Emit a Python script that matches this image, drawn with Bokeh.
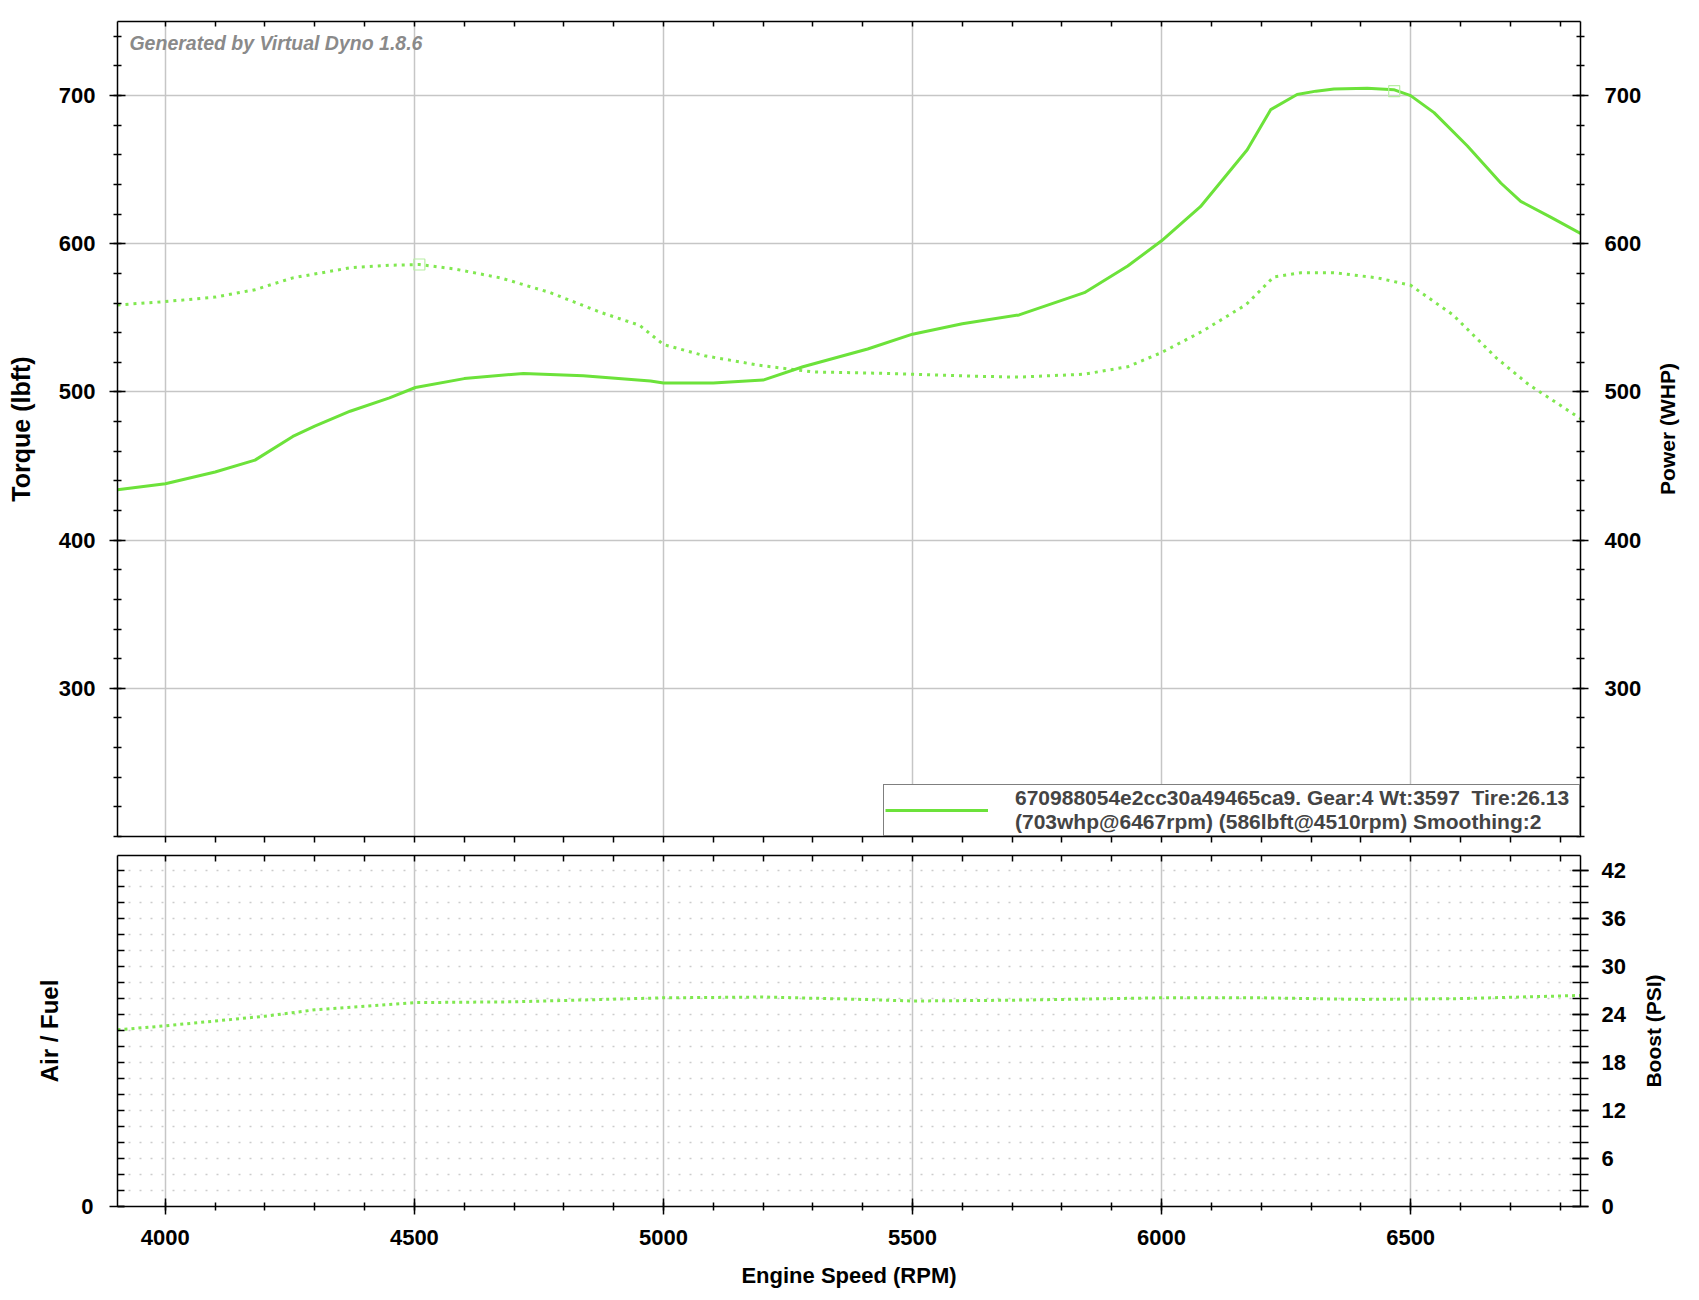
from bokeh.plotting import figure
from bokeh.models import Range1d, LinearAxis, FixedTicker, Legend, LegendItem, Label
from bokeh.layouts import column, row
from bokeh.embed import file_html
from bokeh.resources import INLINE

# ---------------- data ----------------
rpm_power = [3904, 4000, 4100, 4180, 4256, 4300, 4371, 4450, 4502, 4600, 4719, 4839,
             4974, 5000, 5100, 5200, 5280, 5410, 5500, 5600, 5714, 5845, 5932, 6000,
             6078, 6172, 6219, 6272, 6310, 6346, 6413, 6466, 6500, 6547, 6614, 6681,
             6721, 6781, 6841]
power_whp = [434, 438, 446, 454, 470, 477, 487, 496, 503, 509, 512.5, 511,
             507.4, 506, 506, 508, 517, 529, 539, 546, 552, 567, 585, 602,
             625, 663.5, 690.5, 700.7, 703, 704.5, 705, 704, 700, 688.5, 666, 641,
             628.6, 618, 607]

rpm_torque = [3904, 4000, 4100, 4180, 4256, 4371, 4450, 4510, 4580, 4673, 4773, 4874,
              4952, 5000, 5083, 5192, 5300, 5410, 5500, 5627, 5714, 5845, 5932, 6000,
              6082, 6170, 6225, 6280, 6346, 6433, 6500, 6585, 6672, 6737, 6841]
torque_lbft = [558.7, 561, 564, 569, 577, 583.8, 585.5, 586, 583, 577, 567, 553.7,
               545, 532, 524.4, 518, 513.5, 512.8, 512, 510.6, 510, 512, 517, 526.6,
               541, 559, 577.6, 580.5, 580.5, 577, 572, 552, 523, 505, 482]

rpm_boost = [3904, 4000, 4200, 4300, 4500, 4700, 5000, 5200, 5400, 5500, 5700,
             6000, 6200, 6400, 6600, 6841]
boost_psi = [22.1, 22.6, 23.8, 24.6, 25.5, 25.6, 26.1, 26.2, 25.9, 25.7, 25.8,
             26.1, 26.1, 25.9, 26.0, 26.4]

peak_power_rpm = [6467]
peak_power = [703]
peak_torque_rpm = [4510]
peak_torque = [586]

x_major = [4000, 4500, 5000, 5500, 6000, 6500]
x_minor = list(range(3900, 6900, 100))
torque_major = [300, 400, 500, 600, 700]
torque_minor = list(range(200, 760, 20))
boost_ticks = list(range(0, 44, 2))
boost_labelled = [0, 6, 12, 18, 24, 30, 36, 42]
afr_labelled = [0]

legend_text = ("670988054e2cc30a49465ca9. Gear:4 Wt:3597  Tire:26.13\n"
               "(703whp@6467rpm) (586lbft@4510rpm) Smoothing:2")
watermark = "Generated by Virtual Dyno 1.8.6"
power_title = "Power (WHP)"
boost_title = "Boost (PSI)"

# ---------------- style ----------------
FONT = "Liberation Sans"
GREEN = "#6ce23a"
GREEN_DOT = "#80e850"
GRID = "#c6c6c6"
FRAME_W = 1463
LEFT_B = 117
TOTAL_W = 1684


def base_axis(ax, tin, tout, min_in, min_out):
    ax.axis_line_color = "black"
    ax.axis_line_width = 1.5
    ax.major_tick_line_color = "black"
    ax.major_tick_line_width = 1.5
    ax.minor_tick_line_color = "black"
    ax.minor_tick_line_width = 1.5
    ax.major_tick_in = tin
    ax.major_tick_out = tout
    ax.minor_tick_in = min_in
    ax.minor_tick_out = min_out
    ax.major_label_text_font = FONT
    ax.major_label_text_font_style = "bold"
    ax.major_label_text_color = "black"
    ax.axis_label_text_font = FONT
    ax.axis_label_text_font_style = "bold"
    ax.axis_label_text_color = "black"


def title_strip(text, width, height, top, bottom, border, standoff):
    """Narrow figure whose only content is an upright axis title (reads bottom-to-top)."""
    q = figure(width=width, height=height, title=None, toolbar_location=None,
               output_backend="svg", x_range=Range1d(0, 1), y_range=Range1d(0, 1),
               x_axis_location=None)
    q.min_border_left = border
    q.min_border_right = 0
    q.min_border_top = top
    q.min_border_bottom = bottom
    q.outline_line_color = None
    q.grid.visible = False
    ax = q.left[0]
    ax.ticker = FixedTicker(ticks=[])
    ax.axis_line_color = None
    ax.major_tick_line_color = None
    ax.minor_tick_line_color = None
    ax.axis_label = text
    ax.axis_label_text_font = FONT
    ax.axis_label_text_font_style = "bold"
    ax.axis_label_text_font_size = "21px"
    ax.axis_label_text_color = "black"
    ax.axis_label_standoff = standoff
    return q


# ---------------- top panel ----------------
P1_RIGHT = 64
p1 = figure(frame_width=FRAME_W, frame_height=815, title=None, toolbar_location=None,
            output_backend="svg", x_range=Range1d(3904, 6841), y_range=Range1d(200, 750))
p1.min_border_left = LEFT_B
p1.min_border_right = P1_RIGHT
p1.min_border_top = 21
p1.min_border_bottom = 10
p1.outline_line_color = None

bx = p1.below[0]
bx.ticker = FixedTicker(ticks=[], minor_ticks=x_minor)
base_axis(bx, 0, 8, 0, 6)

ly = p1.left[0]
ly.ticker = FixedTicker(ticks=torque_major, minor_ticks=torque_minor)
base_axis(ly, 8, 8, 4, 4)
ly.major_label_text_font_size = "22px"
ly.major_label_standoff = 14
ly.axis_label = "Torque (lbft)"
ly.axis_label_text_font_size = "25px"
ly.axis_label_standoff = 21

ry = LinearAxis(ticker=FixedTicker(ticks=torque_major, minor_ticks=torque_minor))
base_axis(ry, 8, 8, 4, 4)
ry.major_label_text_font_size = "22px"
ry.major_label_standoff = 16
p1.add_layout(ry, "right")

ax_top = LinearAxis(ticker=FixedTicker(ticks=[], minor_ticks=x_minor))
base_axis(ax_top, 0, 0, 5, 0)
p1.add_layout(ax_top, "above")

p1.xgrid.ticker = FixedTicker(ticks=x_major)
p1.xgrid.grid_line_color = GRID
p1.xgrid.grid_line_width = 1.5
p1.ygrid.grid_line_color = GRID
p1.ygrid.grid_line_width = 1.5

torque_r = p1.line(rpm_torque, torque_lbft, line_color=GREEN_DOT, line_width=3,
                   line_dash="3 5")
power_r = p1.line(rpm_power, power_whp, line_color=GREEN, line_width=3)
p1.scatter(peak_power_rpm, peak_power, marker="square", size=11, fill_color=None,
           line_color="#b8eea4", line_width=1.2)
p1.scatter(peak_torque_rpm, peak_torque, marker="square", size=11, fill_color=None,
           line_color="#b8eea4", line_width=1.2)

p1.add_layout(Label(x=3928, y=743, text=watermark, text_baseline="top",
                    text_font=FONT, text_font_style="bold italic",
                    text_font_size="19.5px", text_color="#8a8a8a"))

legend = Legend(items=[LegendItem(label=legend_text, renderers=[power_r])],
                location="bottom_right")
legend.margin = 0
legend.padding = 1
legend.glyph_width = 103
legend.label_standoff = 27
legend.label_width = 563
legend.label_text_font = FONT
legend.label_text_font_style = "bold"
legend.label_text_font_size = "21px"
legend.label_text_line_height = 0.85
legend.border_line_color = "black"
legend.border_line_width = 1.5
legend.background_fill_color = "white"
legend.background_fill_alpha = 1.0
p1.add_layout(legend, "center")

q1_w = TOTAL_W - (LEFT_B + FRAME_W + P1_RIGHT)
q1 = title_strip(power_title, q1_w, 846, 21, 10, 38, 4)

# ---------------- bottom panel ----------------
P2_RIGHT = 52
p2 = figure(frame_width=FRAME_W, frame_height=351, title=None, toolbar_location=None,
            output_backend="svg", x_range=p1.x_range, y_range=Range1d(0, 43.9))
p2.min_border_left = LEFT_B
p2.min_border_right = P2_RIGHT
p2.min_border_top = 9
p2.min_border_bottom = 90
p2.outline_line_color = None

b2 = p2.below[0]
b2.ticker = FixedTicker(ticks=x_major, minor_ticks=x_minor)
base_axis(b2, 8, 8, 4, 4)
b2.major_label_text_font_size = "22px"
b2.major_label_standoff = 15
b2.axis_label = "Engine Speed (RPM)"
b2.axis_label_text_font_size = "22px"
b2.axis_label_standoff = 15

l2 = p2.left[0]
l2.ticker = FixedTicker(ticks=afr_labelled, minor_ticks=boost_ticks)
base_axis(l2, 7, 8, 7, 0)
l2.major_label_text_font_size = "22px"
l2.major_label_standoff = 16
l2.axis_label = "Air / Fuel"
l2.axis_label_text_font_size = "24px"
l2.axis_label_standoff = 15

r2 = LinearAxis(ticker=FixedTicker(ticks=boost_labelled, minor_ticks=boost_ticks))
base_axis(r2, 8, 8, 8, 8)
r2.major_label_text_font_size = "22px"
r2.major_label_standoff = 13
p2.add_layout(r2, "right")

t2 = LinearAxis(ticker=FixedTicker(ticks=[], minor_ticks=x_minor))
base_axis(t2, 0, 0, 6, 0)
p2.add_layout(t2, "above")

p2.xgrid.grid_line_color = GRID
p2.xgrid.grid_line_width = 1.5
p2.ygrid.ticker = FixedTicker(ticks=boost_ticks)
p2.ygrid.grid_line_color = "#cccccc"
p2.ygrid.grid_line_width = 1.5
p2.ygrid.grid_line_dash = "2 9"

p2.line(rpm_boost, boost_psi, line_color=GREEN_DOT, line_width=3, line_dash="3 4")

q2_w = TOTAL_W - (LEFT_B + FRAME_W + P2_RIGHT)
q2 = title_strip(boost_title, q2_w, 450, 9, 90, 36, 4)

layout = column(row(p1, q1, spacing=0), row(p2, q2, spacing=0), spacing=0)
open("out.html", "w").write(file_html(layout, INLINE))
